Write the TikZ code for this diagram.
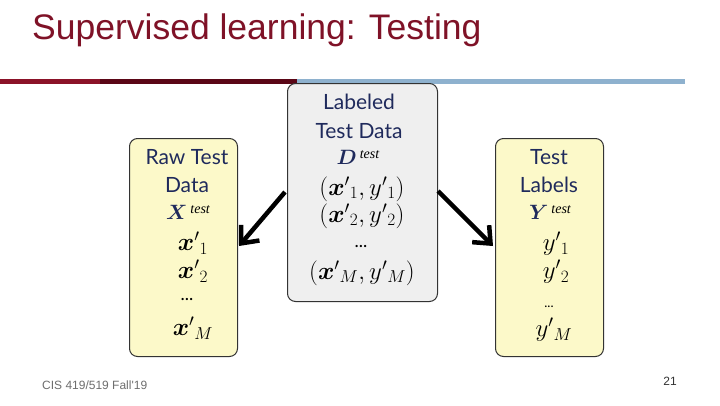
\documentclass[tikz,border=0pt]{standalone}
\usepackage{fontspec}
\usepackage{bm}
\setmainfont{Lato}
\newfontfamily\titlefont{Liberation Sans}
\newfontfamily\serifit{Liberation Serif}
\usetikzlibrary{arrows.meta}
\definecolor{titlered}{HTML}{7F1227}
\definecolor{barred}{HTML}{8B1228}
\definecolor{bardark}{HTML}{5A0616}
\definecolor{barblue}{HTML}{8EB1CE}
\definecolor{navy}{HTML}{1F2A5C}
\definecolor{boxyellow}{HTML}{FCF9C9}
\definecolor{boxgray}{HTML}{EFEFEF}
\definecolor{footgray}{HTML}{6E6E6E}
\tikzset{
  panel/.style={draw=black!80, line width=1pt, rounded corners=8pt, anchor=north west, inner sep=0pt},
  head/.style={text=navy, font=\fontsize{21}{21}\selectfont, inner sep=0pt},
  mathtxt/.style={text=black, font=\fontsize{24}{24}\selectfont, inner sep=0pt},
  bigarrow/.style={line width=4.5pt, -{Straight Barb[length=14pt, width=24pt, line width=4.5pt]}}
}
\newcommand{\tst}{\hbox{\raisebox{6pt}{\kern3pt\serifit\itshape\fontsize{14}{14}\selectfont test}}}
\newcommand{\bx}[1]{\bm{x}'{}_{#1}}
\newcommand{\py}[1]{y'{}_{#1}}
\begin{document}
\begin{tikzpicture}[x=1pt,y=-1pt]
\useasboundingbox (0,0) rectangle (720,405);
\fill[white] (0,0) rectangle (720,405);
% title
\node[anchor=west, inner sep=0pt, text=titlered, font=\titlefont\fontsize{35.5}{36}\selectfont] (title) at (32,30) {Supervised learning: Testing};
\fill[barred] (0,79) rectangle (100,84);
\fill[bardark] (100,79) rectangle (297,84);
\fill[barblue] (297,79) rectangle (685,84);
% boxes
\node[panel, fill=boxyellow, minimum width=108pt, minimum height=218pt] (raw) at (129,138) {};
\node[panel, fill=boxgray, minimum width=150pt, minimum height=218pt] (lab) at (287,83) {};
\node[panel, fill=boxyellow, minimum width=108pt, minimum height=218pt] (lbl) at (495,138) {};
% left box text
\node[head] (r1) at (187,157) {Raw Test};
\node[head] (r2) at (187,185) {Data};
\node[mathtxt, font=\fontsize{22}{22}\selectfont] (r3) at (188,212) {$\bm{\textcolor{navy}{X}}\tst$};
\node[mathtxt] (r4) at (193,243) {$\bx{1}$};
\node[mathtxt] (r5) at (193,271) {$\bx{2}$};
\node[mathtxt, font=\fontsize{18}{18}\selectfont] (r6) at (187,299) {...};
\node[mathtxt] (r7) at (193,328) {$\bx{M}$};
% middle box text
\node[head] (m1) at (359,102) {Labeled};
\node[head] (m2) at (359,131) {Test Data};
\node[mathtxt, font=\fontsize{22}{22}\selectfont] (m3) at (358,157) {$\bm{\textcolor{navy}{D}}\tst$};
\node[mathtxt] (m4) at (362,189) {$(\bx{1}, \py{1})$};
\node[mathtxt] (m5) at (362,216) {$(\bx{2}, \py{2})$};
\node[mathtxt, font=\fontsize{18}{18}\selectfont] (m6) at (361,246) {...};
\node[mathtxt] (m7) at (362,273) {$(\bx{M}, \py{M})$};
% right box text
\node[head] (l1) at (549,157) {Test};
\node[head] (l2) at (549,185) {Labels};
\node[mathtxt, font=\fontsize{22}{22}\selectfont] (l3) at (550,212) {$\bm{\textcolor{navy}{Y}}\tst$};
\node[mathtxt] (l4) at (556,244) {$\py{1}$};
\node[mathtxt] (l5) at (556,272) {$\py{2}$};
\node[mathtxt, font=\fontsize{13}{13}\selectfont] (l6) at (549,307) {...};
\node[mathtxt] (l7) at (554,330) {$\py{M}$};
% arrows
\coordinate (a1s) at (285,192);
\coordinate (a1e) at (239,246);
\coordinate (a2s) at (438,191);
\coordinate (a2e) at (493,246);
\draw[bigarrow] (a1s) -- (a1e);
\draw[bigarrow] (a2s) -- (a2e);
% footer
\node[anchor=west, inner sep=0pt, text=footgray, font=\titlefont\fontsize{12}{12}\selectfont] (foot) at (42,385) {CIS 419/519 Fall'19};
\node[anchor=center, inner sep=0pt, text=black!80, font=\titlefont\fontsize{12}{12}\selectfont] (page) at (670,381) {21};
\end{tikzpicture}
\end{document}
